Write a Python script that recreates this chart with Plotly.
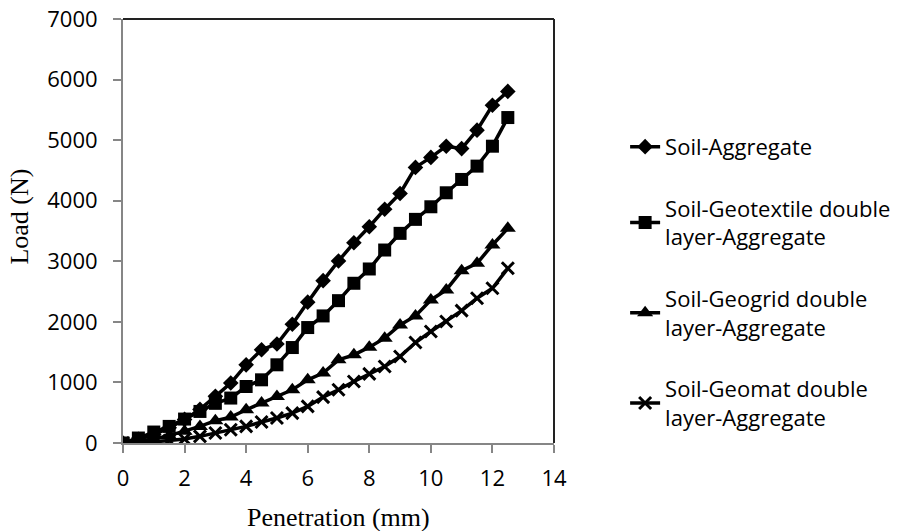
import plotly.graph_objects as go

penetration = [0, 0.5, 1, 1.5, 2, 2.5, 3, 3.5, 4, 4.5, 5, 5.5, 6, 6.5, 7, 7.5, 8, 8.5, 9, 9.5, 10, 10.5, 11, 11.5, 12, 12.5]

soil_aggregate = [0, 60, 140, 250, 390, 555, 770, 990, 1290, 1540, 1635, 1960, 2325, 2680, 3005, 3305, 3570, 3860, 4120, 4550, 4715, 4900, 4860, 5165, 5575, 5805]
geotextile = [0, 82, 181, 274, 395, 521, 655, 742, 933, 1043, 1291, 1576, 1906, 2098, 2350, 2637, 2873, 3186, 3461, 3692, 3900, 4131, 4351, 4571, 4900, 5373]
geogrid = [0, 27, 66, 121, 192, 274, 368, 428, 549, 659, 769, 879, 1043, 1154, 1373, 1455, 1582, 1731, 1950, 2098, 2362, 2527, 2845, 2967, 3269, 3544]
geomat = [0, 8, 20, 40, 66, 110, 165, 219, 274, 346, 412, 494, 604, 758, 879, 1016, 1142, 1263, 1428, 1659, 1840, 2005, 2186, 2390, 2555, 2884]

names = ["Soil-Aggregate", "Soil-Geotextile double<br>layer-Aggregate",
         "Soil-Geogrid double<br>layer-Aggregate", "Soil-Geomat double<br>layer-Aggregate"]
series = [soil_aggregate, geotextile, geogrid, geomat]
symbols = ["diamond", "square", "triangle-up", "x-thin"]
sizes = [12, 13, 14, 12]

x_ticks = [0, 2, 4, 6, 8, 10, 12, 14]
y_ticks = [0, 1000, 2000, 3000, 4000, 5000, 6000, 7000]

fig = go.Figure()
for i, (nm, ys, sym, sz) in enumerate(zip(names, series, symbols, sizes)):
    marker = dict(symbol=sym, size=sz, color="black")
    if sym == "x-thin":
        marker["line"] = dict(width=3, color="black")
    fig.add_trace(go.Scatter(
        x=penetration, y=ys, mode="lines+markers", name=nm,
        line=dict(color="black", width=3.5), marker=marker,
        legendgroup=f"g{i}",
    ))

tick_font = dict(family="Open Sans", size=22, color="black")
fig.update_layout(
    width=909, height=531,
    margin=dict(l=123, r=355, t=19, b=88, autoexpand=False),
    plot_bgcolor="white", paper_bgcolor="white",
    showlegend=True,
    legend=dict(x=1.165, y=0.748, xanchor="left", yanchor="top",
                font=dict(family="Open Sans", size=22, color="black"),
                tracegroupgap=30, bgcolor="rgba(0,0,0,0)"),
    xaxis=dict(range=[0, 14], tickvals=x_ticks, ticktext=[str(v) for v in x_ticks],
               showgrid=False, zeroline=False, showline=True, linecolor="#868686",
               linewidth=2, ticks="outside", ticklen=8, tickcolor="#868686",
               tickwidth=1.5, tickfont=tick_font, ticklabelstandoff=7, automargin=False),
    yaxis=dict(range=[0, 7000], tickvals=y_ticks, ticktext=[str(v) for v in y_ticks],
               showgrid=False, zeroline=False, showline=True, linecolor="#868686",
               linewidth=2, ticks="outside", ticklen=8, tickcolor="#868686",
               tickwidth=1.5, tickfont=tick_font, ticklabelstandoff=11, automargin=False),
    shapes=[
        dict(type="line", xref="paper", yref="paper", x0=0, x1=1, y0=1, y1=1,
             line=dict(color="#222222", width=2)),
        dict(type="line", xref="paper", yref="paper", x0=1, x1=1, y0=0, y1=1,
             line=dict(color="#222222", width=2)),
    ],
    annotations=[
        dict(text="Penetration (mm)", xref="paper", yref="paper", x=0.5, y=-0.176,
             xanchor="center", yanchor="middle", showarrow=False,
             font=dict(family="Liberation Serif", size=26, color="black")),
        dict(text="Load (N)", xref="paper", yref="paper", x=-0.2404, y=0.535,
             xanchor="center", yanchor="middle", showarrow=False, textangle=-90,
             font=dict(family="Liberation Serif", size=26, color="black")),
    ],
)

fig.write_html("out.html")
